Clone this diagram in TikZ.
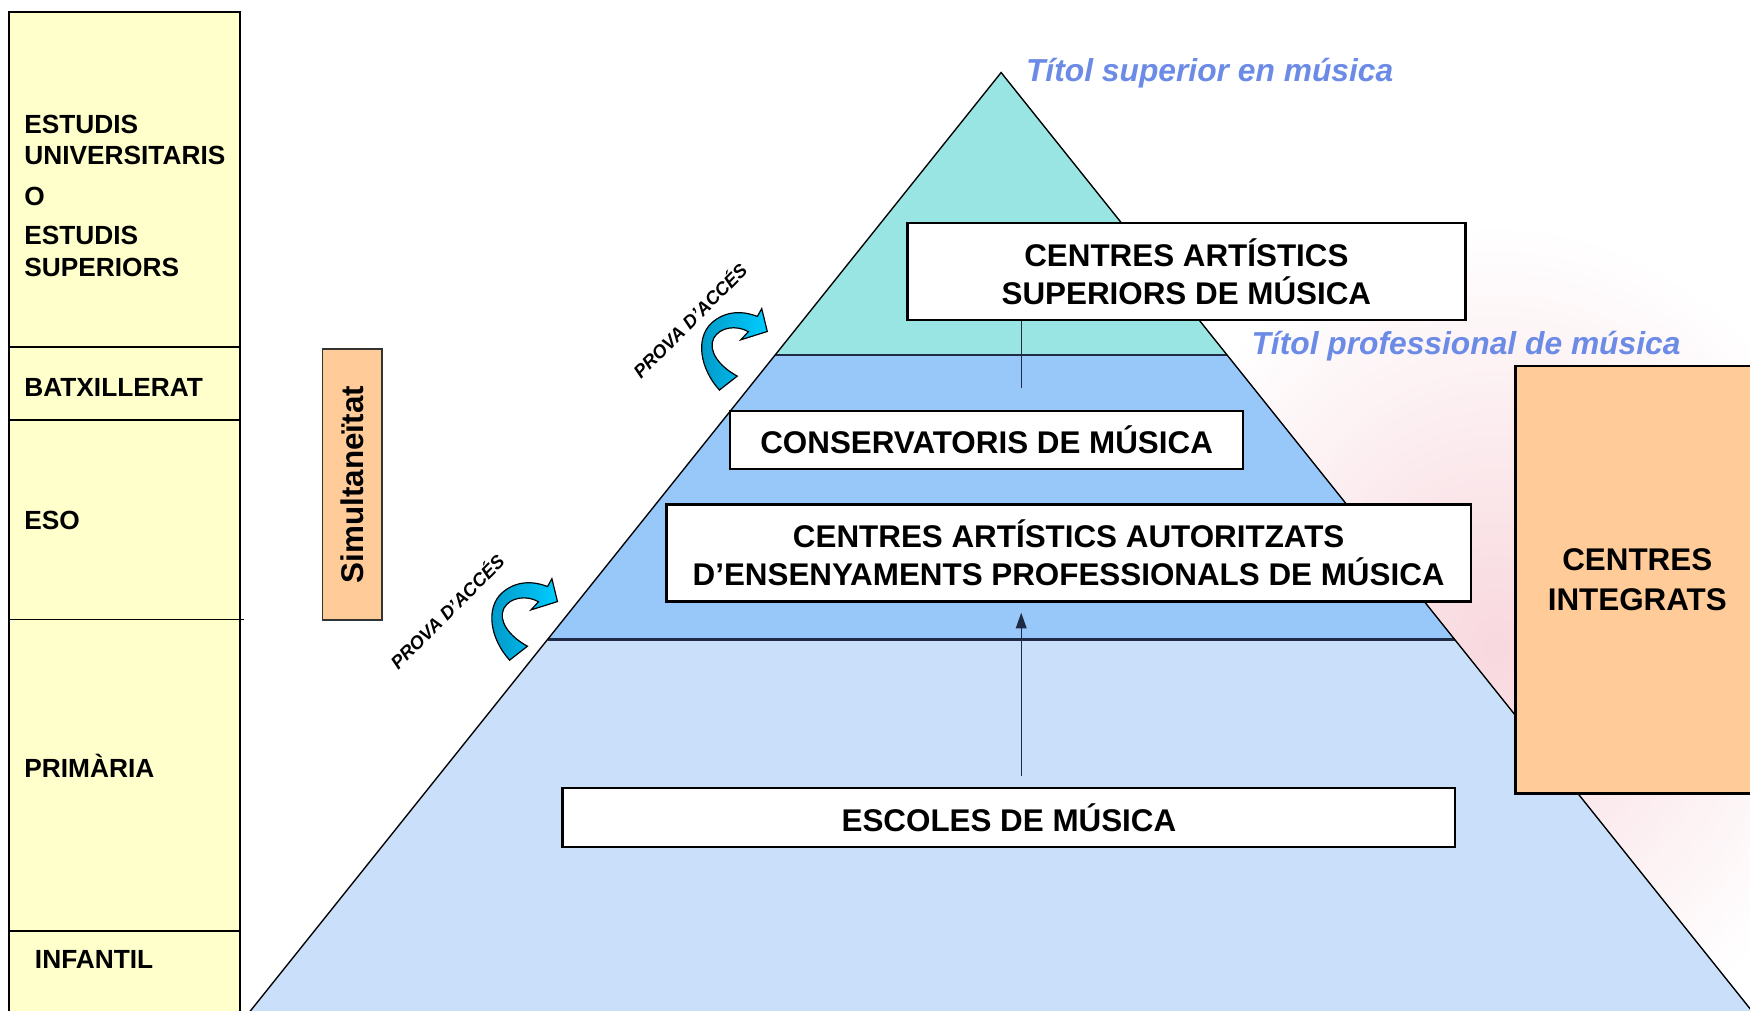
\documentclass[tikz,border=0pt]{standalone}
\usepackage{fontspec}
\setmainfont{Liberation Sans}
\usetikzlibrary{arrows.meta}
\definecolor{colyellow}{HTML}{FFFFCC}
\definecolor{colorange}{HTML}{FFCC99}
\definecolor{colteal}{HTML}{99E5E3}
\definecolor{colmid}{HTML}{98C8FA}
\definecolor{colbot}{HTML}{CAE0FA}
\definecolor{coltitle}{HTML}{6B8BE6}
\definecolor{colpink}{HTML}{F8D8DE}
\definecolor{cyanlight}{HTML}{00CCFF}
\definecolor{cyandark}{HTML}{0096C4}
\definecolor{colline}{HTML}{1F2A44}
\begin{document}
\begin{tikzpicture}[x=0.02cm,y=-0.02cm,
  box/.style={draw=black, fill=white, line width=1.2pt, align=center, inner sep=0pt,
    font=\fontsize{16}{19.2}\selectfont\bfseries},
  lefttxt/.style={anchor=base west, inner sep=0pt, font=\fontsize{13.4}{16}\selectfont\bfseries},
  titletxt/.style={anchor=base west, inner sep=0pt, text=coltitle,
    font=\fontsize{16.2}{19}\selectfont\bfseries\itshape},
  provatxt/.style={inner sep=0pt, rotate=45, font=\fontsize{9.4}{11}\selectfont\bfseries\itshape},
  connector/.style={draw=colline, line width=0.6pt},
  provaarrow/.pic={
    \path[draw=black, line width=0.6pt, left color=cyandark, right color=cyanlight]
      (644.6,349.5) .. controls (627,330) and (623,303) .. (637.5,289.5)
      .. controls (650,278) and (666,278.5) .. (678.6,283.5)
      -- (682.5,276.5) -- (687.5,297) -- (663.7,304.5) -- (670.5,297.2)
      .. controls (660,291) and (645,293) .. (639.5,303)
      .. controls (634,314) and (644,328) .. (660.6,337)
      -- cycle;
  }
]
\clip (0,0) rectangle (1568,905);
\fill[white] (0,0) rectangle (1568,905);
% faint watermark tint
\shade[inner color=colpink, outer color=white] (1340,580) ellipse [x radius=6.6cm, y radius=7.6cm];

% left column
\draw[fill=colyellow, line width=0.9pt] (8,10.5) rectangle (215,920);
\foreach \yy in {310.6,376.3,834.3} \draw[line width=0.9pt] (8,\yy) -- (215,\yy);
\draw[line width=0.9pt] (8,555) -- (219,555);
\node[lefttxt] (l1) at (21.5,119.5) {ESTUDIS};
\node[lefttxt] (l2) at (21.5,147.8) {UNIVERSITARIS};
\node[lefttxt] (l3) at (21.5,183.7) {O};
\node[lefttxt] (l4) at (21.5,219.5) {ESTUDIS};
\node[lefttxt] (l5) at (21.5,248) {SUPERIORS};
\node[lefttxt] (l6) at (21.5,355.4) {BATXILLERAT};
\node[lefttxt] (l7) at (21.5,474) {ESO};
\node[lefttxt] (l8) at (21.5,697) {PRIMÀRIA};
\node[lefttxt] (l9) at (31,867.7) {INFANTIL};

% pyramid
\fill[colteal] (897,65) -- (694.6,318) -- (1099.4,318) -- cycle;
\fill[colmid] (694.6,318) -- (490.6,573) -- (1303.4,573) -- (1099.4,318) -- cycle;
\fill[colbot] (490.6,573) -- (221,910) -- (1573,910) -- (1303.4,573) -- cycle;
\draw[line width=1.1pt, draw=colline] (694.6,318) -- (1099.4,318);
\draw[line width=1.1pt, draw=colline] (490.6,573) -- (1303.4,573);
\draw[line width=0.7pt] (221,910) -- (897,65) -- (1573,910);

% titles
\node[titletxt] (t1) at (919,73) {Títol superior en música};
\node[titletxt] (t2) at (1121,318) {Títol professional de música};

% boxes
\node[box, minimum width=10cm, minimum height=1.74cm] (sup) at (1063,243.5) {CENTRES ARTÍSTICS\\SUPERIORS DE MÚSICA};
\node[box, minimum width=9.2cm, minimum height=1.04cm] (cons) at (884,394) {CONSERVATORIS DE MÚSICA};
\node[box, minimum width=14.42cm, minimum height=1.74cm] (aut) at (957.5,495.5) {CENTRES ARTÍSTICS AUTORITZATS\\D’ENSENYAMENTS PROFESSIONALS DE MÚSICA};
\node[box, minimum width=16cm, minimum height=1.06cm] (esc) at (904,732.5) {ESCOLES DE MÚSICA};

% connectors
\coordinate (c1) at (915,348);
\coordinate (xline) at (915,0);
\draw[connector] (sup.south -| c1) -- (c1);
\draw[connector, -{Triangle[length=8pt,width=5.5pt]}, shorten <=5.7pt, shorten >=5.1pt]
  (esc.north -| xline) -- (aut.south -| xline);

% right box
\node[draw=black, fill=colorange, line width=1.2pt, minimum width=4.36cm, minimum height=7.66cm,
  align=center, inner sep=0pt, font=\fontsize{16}{20}\selectfont\bfseries] (ci) at (1467,519.5) {CENTRES\\INTEGRATS};

% simultaneitat
\node[draw=black!80, fill=colorange, line width=0.9pt, rotate=90, minimum width=4.86cm, minimum height=1.07cm,
  inner sep=0pt, font=\fontsize{16}{19}\selectfont\bfseries] (sim) at (315.7,434.2) {Simultaneïtat};

% prova d'acces arrows
\pic (arr1) at (0,0) {provaarrow};
\pic (arr2) at (-188,242) {provaarrow};
\node[provatxt] (p1) at (617.5,286.5) {PROVA D’ACCÉS};
\node[provatxt] (p2) at (400,547.5) {PROVA D’ACCÉS};
\end{tikzpicture}
\end{document}
